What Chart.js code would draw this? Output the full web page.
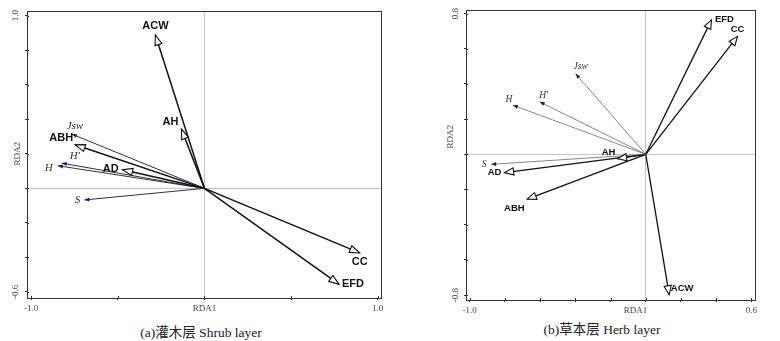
<!DOCTYPE html>
<html>
<head>
<meta charset="utf-8">
<script src="https://cdn.jsdelivr.net/npm/chart.js@4"></script>
<style>
    body { margin: 0; background: #fff; width: 780px; height: 341px; overflow: hidden; position: relative; }
    .panel { position: absolute; top: 0; width: 390px; height: 320px; }
    .cap { position: absolute; font: 13.5px "Liberation Serif", "Noto Sans CJK SC", serif; color: #222; white-space: nowrap; transform: translateX(-50%); line-height: 16px; }
</style>
</head>
<body>
<div class="panel" style="left:0"><canvas id="shrubChart" width="390" height="320"></canvas></div>
<div class="panel" style="left:390px"><canvas id="herbChart" width="390" height="320"></canvas></div>
<div class="cap" style="left:201px;top:325px">(a)灌木层 Shrub layer</div>
<div class="cap" style="left:602px;top:322px">(b)草本层 Herb layer</div>
<script>
// diversity indices (thin arrows) and stand factors (open arrows)
const indexVars = ["Jsw", "H", "H'", "S"];
const envVars = ["AD", "AH", "ABH", "ACW", "CC", "EFD"];

// shrub layer scores
const shrubIndexX = [-0.765, -0.846, -0.823, -0.692];
const shrubIndexY = [0.314, 0.131, 0.146, -0.067];
const shrubEnvX = [-0.472, -0.133, -0.746, -0.283, 0.896, 0.776];
const shrubEnvY = [0.108, 0.343, 0.252, 0.888, -0.374, -0.555];

// herb layer scores
const herbIndexX = [-0.398, -0.754, -0.602, -0.877];
const herbIndexY = [0.458, 0.279, 0.298, -0.057];
const herbEnvX = [-0.801, -0.160, -0.672, 0.133, 0.521, 0.373];
const herbEnvY = [-0.104, -0.025, -0.255, -0.798, 0.670, 0.764];

// axis ticks
const shrubXTicks = [-1.0, -0.5, 0, 0.5, 1.0];
const shrubXTickLabels = ["-1.0", "", "", "", "1.0"];
const shrubYTicks = [-0.6, -0.4, -0.2, 0, 0.2, 0.4, 0.6, 0.8, 1.0];
const shrubYTickLabels = ["-0.6", "", "", "", "", "", "", "", "1.0"];
const herbXTicks = [-1.0, -0.8, -0.6, -0.4, -0.2, 0, 0.2, 0.4, 0.6];
const herbXTickLabels = ["-1.0", "", "", "", "", "", "", "", "0.6"];
const herbYTicks = [-0.8, -0.6, -0.4, -0.2, 0, 0.2, 0.4, 0.6, 0.8];
const herbYTickLabels = ["-0.8", "", "", "", "", "", "", "", "0.8"];

function drawHead(ctx, x0, y0, x1, y1, len, half, fill, stroke, lw) {
    const a = Math.atan2(y1 - y0, x1 - x0);
    const bx = x1 - len * Math.cos(a), by = y1 - len * Math.sin(a);
    ctx.beginPath();
    ctx.moveTo(x1, y1);
    ctx.lineTo(bx + half * Math.sin(a), by - half * Math.cos(a));
    ctx.lineTo(bx - half * Math.sin(a), by + half * Math.cos(a));
    ctx.closePath();
    ctx.fillStyle = fill;
    ctx.fill();
    if (stroke) {
        ctx.strokeStyle = stroke;
        ctx.lineWidth = lw;
        ctx.stroke();
    }
}

const biplotPlugin = {
    id: "biplot",
    beforeDatasetsDraw(chart) {
        const {ctx, chartArea: a, scales} = chart;
        ctx.save();
        ctx.strokeStyle = "#333";
        ctx.lineWidth = 1;
        ctx.strokeRect(Math.round(a.left) + 0.5, Math.round(a.top) + 0.5, Math.round(a.right - a.left), Math.round(a.bottom - a.top));
        // small inner part of the tick marks
        ctx.beginPath();
        scales.x.ticks.forEach(t => {
            const px = Math.round(scales.x.getPixelForValue(t.value)) + 0.5;
            ctx.moveTo(px, a.bottom);
            ctx.lineTo(px, a.bottom - 2);
        });
        scales.y.ticks.forEach(t => {
            const py = Math.round(scales.y.getPixelForValue(t.value)) + 0.5;
            ctx.moveTo(a.left, py);
            ctx.lineTo(a.left + 2, py);
        });
        ctx.stroke();
        ctx.restore();
    },
    afterDatasetsDraw(chart, args, opts) {
        const {ctx, chartArea: a, scales} = chart;
        ctx.save();
        chart.data.datasets.forEach((ds, i) => {
            const pts = chart.getDatasetMeta(i).data;
            const o = pts[0], t = pts[1];
            const s = ds.kind === "env" ? opts.env : opts.index;
            if (ds.kind === "env") {
                drawHead(ctx, o.x, o.y, t.x, t.y, s.headLen, s.headHalf, "#fff", "#111", 1.1);
            } else {
                drawHead(ctx, o.x, o.y, t.x, t.y, s.headLen, s.headHalf, s.headColor, null, 0);
            }
            ctx.font = s.font;
            ctx.fillStyle = s.textColor;
            ctx.textAlign = "center";
            ctx.textBaseline = "middle";
            ctx.fillText(ds.label, t.x + ds.labelOffset[0], t.y + ds.labelOffset[1]);
        });

        // y tick labels, rotated
        ctx.font = "9px 'Liberation Serif'";
        ctx.fillStyle = "#444";
        ctx.textAlign = "center";
        ctx.textBaseline = "middle";
        opts.yTicks.forEach((v, i) => {
            const lab = opts.yTickLabels[i];
            if (!lab) return;
            ctx.save();
            ctx.translate(a.left - opts.yTickGap, scales.y.getPixelForValue(v));
            ctx.rotate(-Math.PI / 2);
            ctx.fillText(lab, 0, 0);
            ctx.restore();
        });

        // axis names
        ctx.fillText("RDA1", scales.x.getPixelForValue(opts.xTitleAt), a.bottom + 11);
        ctx.save();
        ctx.translate(a.left - opts.yTitleGap, scales.y.getPixelForValue(opts.yTitleAt));
        ctx.rotate(-Math.PI / 2);
        ctx.fillText("RDA2", 0, 0);
        ctx.restore();
        ctx.restore();
    }
};

function makeBiplot(id, cfg) {
    const datasets = [];
    cfg.indexX.forEach((x, i) => datasets.push({
        kind: "index",
        label: indexVars[i],
        data: [{x: 0, y: 0}, {x: x, y: cfg.indexY[i]}],
        borderColor: cfg.indexLine,
        borderWidth: cfg.indexWidth,
        labelOffset: cfg.indexOffsets[i]
    }));
    cfg.envX.forEach((x, i) => datasets.push({
        kind: "env",
        label: envVars[i],
        data: [{x: 0, y: 0}, {x: x, y: cfg.envY[i]}],
        borderColor: "#111",
        borderWidth: cfg.envWidth,
        labelOffset: cfg.envOffsets[i]
    }));

    const zeroGrid = c => (c.tick && c.tick.value === 0) ? "#c4c4c4" : "rgba(0,0,0,0)";

    return new Chart(document.getElementById(id).getContext("2d"), {
        type: "scatter",
        data: {datasets: datasets},
        options: {
            responsive: false,
            animation: false,
            devicePixelRatio: 1,
            showLine: true,
            elements: {point: {radius: 0, hoverRadius: 0}, line: {tension: 0}},
            layout: {padding: cfg.padding},
            plugins: {
                legend: {display: false},
                tooltip: {enabled: false},
                biplot: {
                    env: {headLen: cfg.headLen, headHalf: 3.6, font: `bold ${cfg.envFont}px 'Liberation Sans'`, textColor: "#111"},
                    index: {headLen: 5, headHalf: 2, headColor: cfg.indexHead, font: `italic ${cfg.indexFont}px 'Liberation Serif'`, textColor: "#333"},
                    yTicks: cfg.yTicks,
                    yTickLabels: cfg.yTickLabels,
                    yTickGap: cfg.yTickGap,
                    yTitleGap: cfg.yTitleGap,
                    xTitleAt: cfg.xTitleAt,
                    yTitleAt: cfg.yTitleAt
                }
            },
            scales: {
                x: {
                    type: "linear",
                    min: cfg.xMin,
                    max: cfg.xMax,
                    afterBuildTicks: s => { s.ticks = cfg.xTicks.map(v => ({value: v})); },
                    afterFit: s => { s.height = cfg.xHeight; },
                    ticks: {
                        callback: (v, i) => cfg.xTickLabels[i],
                        font: {family: "Liberation Serif", size: 9},
                        color: "#444",
                        padding: 3,
                        maxRotation: 0,
                        autoSkip: false
                    },
                    grid: {color: zeroGrid, tickColor: "#333", tickLength: 2},
                    border: {color: "#333", width: 1}
                },
                y: {
                    type: "linear",
                    min: cfg.yMin,
                    max: cfg.yMax,
                    afterBuildTicks: s => { s.ticks = cfg.yTicks.map(v => ({value: v})); },
                    afterFit: s => { s.width = cfg.yWidth; },
                    ticks: {display: false},
                    grid: {color: zeroGrid, tickColor: "#333", tickLength: 2},
                    border: {color: "#333", width: 1}
                }
            }
        },
        plugins: [biplotPlugin]
    });
}

makeBiplot("shrubChart", {
    indexX: shrubIndexX, indexY: shrubIndexY, envX: shrubEnvX, envY: shrubEnvY,
    indexOffsets: [[3, -8], [-9, 2], [13, -7], [-7, 0]],
    envOffsets: [[-12, -1], [-11, -7], [-14, -7], [0, -9], [0, 9], [14, 0]],
    indexLine: "#1a1a2e", indexWidth: 0.9, indexHead: "#1c1c6e", envWidth: 1.5,
    headLen: 10, envFont: 11, indexFont: 11,
    xMin: -1.024, xMax: 1.019, yMin: -0.635, yMax: 1.027,
    xTicks: shrubXTicks, xTickLabels: shrubXTickLabels,
    yTicks: shrubYTicks, yTickLabels: shrubYTickLabels,
    padding: {left: 0, top: 11, right: 9, bottom: 0},
    yWidth: 27, xHeight: 22,
    yTickGap: 11, yTitleGap: 9, xTitleAt: 0, yTitleAt: 0.2
});

makeBiplot("herbChart", {
    indexX: herbIndexX, indexY: herbIndexY, envX: herbEnvX, envY: herbEnvY,
    indexOffsets: [[5, -7], [-4, -6], [4, -6], [-7, 0]],
    envOffsets: [[-10, 0], [-9, -6], [-13, 9], [13, -6], [0, -7], [13, 0]],
    indexLine: "#555", indexWidth: 0.7, indexHead: "#222", envWidth: 1.3,
    headLen: 9, envFont: 9.5, indexFont: 9.5,
    xMin: -1.020, xMax: 0.620, yMin: -0.828, yMax: 0.820,
    xTicks: herbXTicks, xTickLabels: herbXTickLabels,
    yTicks: herbYTicks, yTickLabels: herbYTickLabels,
    padding: {left: 0, top: 10, right: 25, bottom: 0},
    yWidth: 76, xHeight: 20,
    yTickGap: 10, yTitleGap: 15, xTitleAt: -0.058, yTitleAt: 0.1
});
</script>
</body>
</html>
